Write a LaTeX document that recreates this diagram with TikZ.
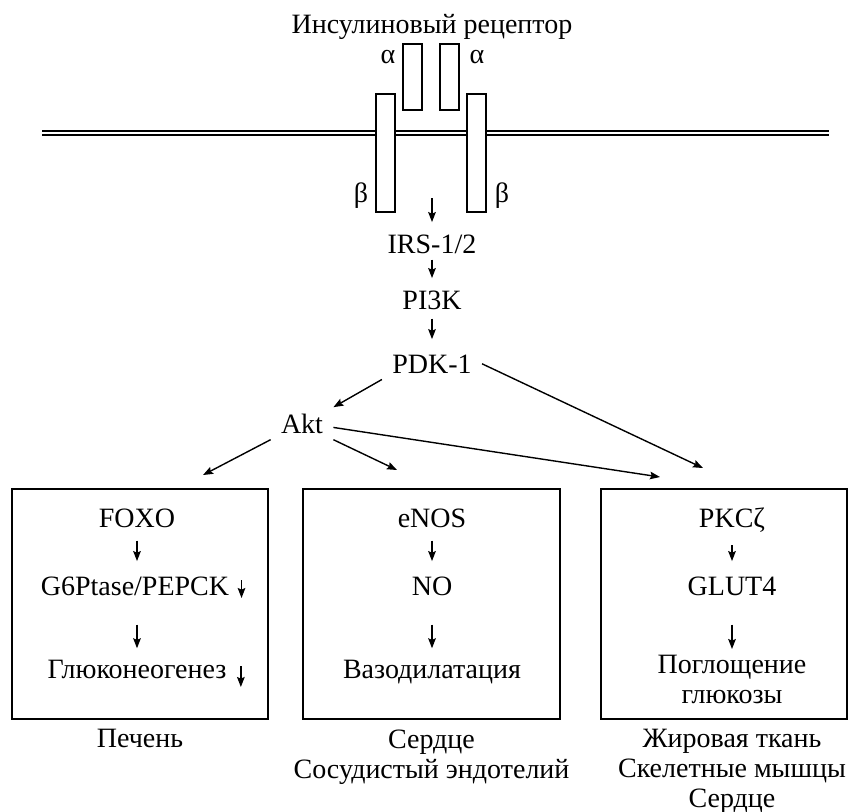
\documentclass[tikz,border=0pt]{standalone}
\usepackage{fontspec}
\setmainfont{Liberation Serif}
\usepackage{tikz}
\usetikzlibrary{arrows.meta,positioning}
\tikzstyle{lbl}    =[inner xsep=5pt, inner ysep=3pt, anchor=base,
                     font=\fontsize{14}{15}\selectfont]
\tikzstyle{stack}  =[lbl, align=center, anchor=north]
\tikzstyle{glyph}  =[inner sep=0pt, font=\fontsize{14}{15}\selectfont]
\tikzstyle{subunit}=[rectangle, draw=black, fill=white, line width=1pt,
                     inner sep=0pt, minimum width=9.6pt]
\tikzstyle{panel}  =[rectangle, draw=black, line width=1.1pt, inner sep=0pt,
                     minimum height=115pt]
\tikzstyle{arr}    =[-{Stealth[length=5pt,width=3.8pt,inset=0.8pt]}, line width=0.7pt]
\tikzstyle{memb}   =[line width=0.85pt]

\begin{document}
\begin{tikzpicture}[x=0.5pt, y=-0.5pt]
  \useasboundingbox (0,0) rectangle (851,811);

  % ── membrane and receptor ──────────────────────────────────────────────────
  \draw[memb] (42,130.7) -- (829,130.7);
  \draw[memb] (42,134.7) -- (829,134.7);

  \node[subunit, minimum height=59pt] (betaL)  at (385.7,152.5) {};
  \node[subunit, minimum height=59pt] (betaR)  at (476.7,152.5) {};
  \node[subunit, minimum height=33pt] (alphaL) at (412.5,76.5)  {};
  \node[subunit, minimum height=33pt] (alphaR) at (449.2,76.5)  {};

  \node[lbl]   (rtitle) at (432,33)  {Инсулиновый рецептор};
  \node[glyph] (aL)     at (388,57)  {α};
  \node[glyph] (aR)     at (477,57)  {α};
  \node[glyph] (bL)     at (361,196) {β};
  \node[glyph] (bR)     at (502,196) {β};

  % ── signalling chain ───────────────────────────────────────────────────────
  \node[lbl] (irs) at (432,253) {IRS-1/2};
  \node[lbl] (pik) at (432,309) {PI3K};
  \node[lbl] (pdk) at (432,373) {PDK-1};
  \node[lbl] (akt) at (302,433) {Akt};

  \coordinate (rcpt)      at (432,198);
  \coordinate (intoLiver) at (203,475);
  \coordinate (intoHeart) at (397,470);
  \coordinate (intoFatB)  at (660,477);
  \coordinate (intoFatA)  at (703,468);

  \draw[arr, shorten >=3pt] (rcpt) -- (irs);
  \draw[arr, shorten >=3pt] (irs)  -- (pik);
  \draw[arr, shorten <=1.5pt, shorten >=4.5pt] (pik) -- (pdk);
  \draw[arr] (pdk.south west) -- (akt.north east);
  \draw[arr] (pdk.east)       -- (intoFatA);
  \draw[arr] (akt.south west) -- (intoLiver);
  \draw[arr] (akt.south east) -- (intoHeart);
  \draw[arr] ([yshift=-2pt]akt.east) -- (intoFatB);

  % ── tissue panels ──────────────────────────────────────────────────────────
  \node[panel, minimum width=128pt]   (liver) at (140,604)   {};
  \node[panel, minimum width=128.5pt] (heart) at (431.5,604) {};
  \node[panel, minimum width=123pt]   (fat)   at (724,604)   {};

  \node[lbl] (foxo) at (137,527) {FOXO};
  \node[lbl] (gsix) at (135,595) {G6Ptase/PEPCK};
  \node[lbl] (gng)  at (137,678) {Глюконеогенез};

  \node[lbl] (enos) at (432,527) {eNOS};
  \node[lbl] (no)   at (432,595) {NO};
  \node[lbl] (vaso) at (432,678) {Вазодилатация};

  \node[lbl]   (pkc)    at (732,527) {PKCζ};
  \node[lbl]   (glut)   at (732,595) {GLUT4};
  \node[stack] (uptake) at (732,649) {Поглощение\\глюкозы};

  \draw[arr, shorten <=3.5pt, shorten >=4.5pt] (foxo) -- (foxo |- gsix.north);
  \draw[arr, shorten <=11.5pt, shorten >=2.5pt] (foxo |- gsix.south) -- (gng);
  \draw[arr, shorten <=3.5pt, shorten >=4.5pt] (enos) -- (no);
  \draw[arr, shorten <=11.5pt, shorten >=2.5pt] (no) -- (vaso);
  \draw[arr, shorten <=3.5pt, shorten >=4.5pt] (pkc) -- (glut);
  \draw[arr, shorten <=11.5pt] (glut) -- (uptake);

  % decrease marks
  \draw[arr] ([xshift=1pt,yshift=7.5pt]gsix.base east) -- ++(0,18);
  \draw[arr] ([xshift=2pt,yshift=6pt]gng.base east)    -- ++(0,21);

  % ── tissue labels ──────────────────────────────────────────────────────────
  \node[stack, below=1.5pt of liver]             (liverlbl) {Печень};
  \node[stack, below=1.5pt of heart]             (heartlbl) {Сердце\\Сосудистый эндотелий};
  \node[stack, below=1.5pt of fat, xshift=4pt]   (fatlbl)   {Жировая ткань\\Скелетные мышцы\\Сердце};

\end{tikzpicture}
\end{document}
